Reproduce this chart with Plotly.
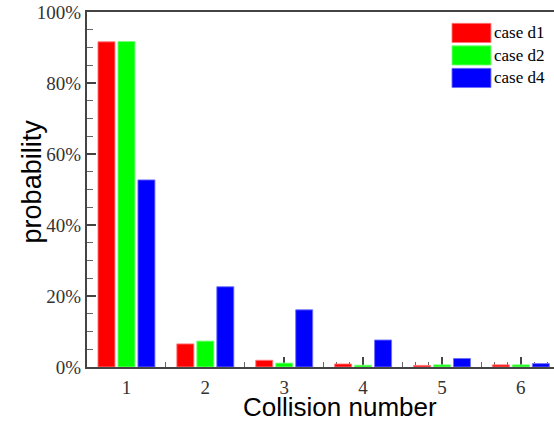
import plotly.graph_objects as go

categories = [1, 2, 3, 4, 5, 6]
series_names = ["case d1", "case d2", "case d4"]
case_d1 = [91.6, 6.5, 1.9, 0.85, 0.45, 0.6]
case_d2 = [91.7, 7.3, 1.1, 0.5, 0.6, 0.6]
case_d4 = [52.7, 22.6, 16.1, 7.6, 2.4, 0.95]
colors = ["#ff0000", "#00ff00", "#0000ff"]
edge_colors = ["rgba(255,120,120,0.9)", "rgba(120,255,120,0.9)", "rgba(110,110,255,0.9)"]
y_ticks = [0, 20, 40, 60, 80, 100]

fig = go.Figure()
for name, vals, c, ec in zip(series_names, [case_d1, case_d2, case_d4], colors, edge_colors):
    fig.add_trace(go.Bar(x=categories, y=vals, name=name,
                         marker=dict(color=c, line=dict(color=ec, width=1)),
                         showlegend=False))

axis_col = "#444444"
tick_font = dict(family="Liberation Serif", size=19, color="#333333")

fig.update_layout(
    width=554, height=423,
    margin=dict(l=87, r=0, t=12, b=56),
    paper_bgcolor="white", plot_bgcolor="white",
    barmode="group", bargap=0.24, bargroupgap=0.15,
    xaxis=dict(range=[0.5, 6.42], tickmode="array", tickvals=categories,
               ticktext=[str(c) for c in categories],
               ticks="inside", ticklen=10, tickwidth=1.5, tickcolor=axis_col,
               showline=True, linecolor=axis_col, linewidth=2, mirror=True,
               showgrid=False, zeroline=False, tickfont=tick_font,
               ticklabelstandoff=2, layer="below traces",
               minor=dict(dtick=1/6, tick0=0.5, ticks="inside", ticklen=5,
                          tickwidth=1.2, tickcolor="#666666", showgrid=False)),
    yaxis=dict(range=[0, 100], tickmode="array", tickvals=y_ticks,
               ticktext=[f"{v}%" for v in y_ticks],
               ticks="inside", ticklen=9, tickwidth=1.5, tickcolor=axis_col,
               showline=True, linecolor=axis_col, linewidth=2, mirror=False,
               showgrid=False, zeroline=False, tickfont=tick_font,
               layer="below traces",
               minor=dict(dtick=5, tick0=0, ticks="inside", ticklen=6,
                          tickwidth=1.2, tickcolor="#666666", showgrid=False)),
)

# axis titles
fig.add_annotation(text="Collision number", xref="paper", yref="paper",
                   x=0.542, y=-0.112, xanchor="center", yanchor="middle",
                   showarrow=False, font=dict(family="Liberation Sans", size=26, color="black"))
fig.add_annotation(text="probability", xref="paper", yref="paper",
                   x=-0.118, y=0.5225, xanchor="center", yanchor="middle", textangle=-90,
                   showarrow=False, font=dict(family="Liberation Sans", size=27, color="black"))

# manual legend
box_x0, box_x1 = 0.7816, 0.865
row0, row_step, half_h = 0.941, 0.0634, 0.027
for i, (name, c, ec) in enumerate(zip(series_names, colors, edge_colors)):
    yc = row0 - i * row_step
    fig.add_shape(type="rect", xref="paper", yref="paper",
                  x0=box_x0, x1=box_x1, y0=yc - half_h, y1=yc + half_h,
                  fillcolor=c, line=dict(color=ec, width=1))
    fig.add_annotation(text=name, xref="paper", yref="paper", x=box_x1 + 0.002, y=yc,
                       xanchor="left", yanchor="middle", showarrow=False,
                       font=dict(family="Liberation Serif", size=17, color="black"))

fig.write_html("out.html")
